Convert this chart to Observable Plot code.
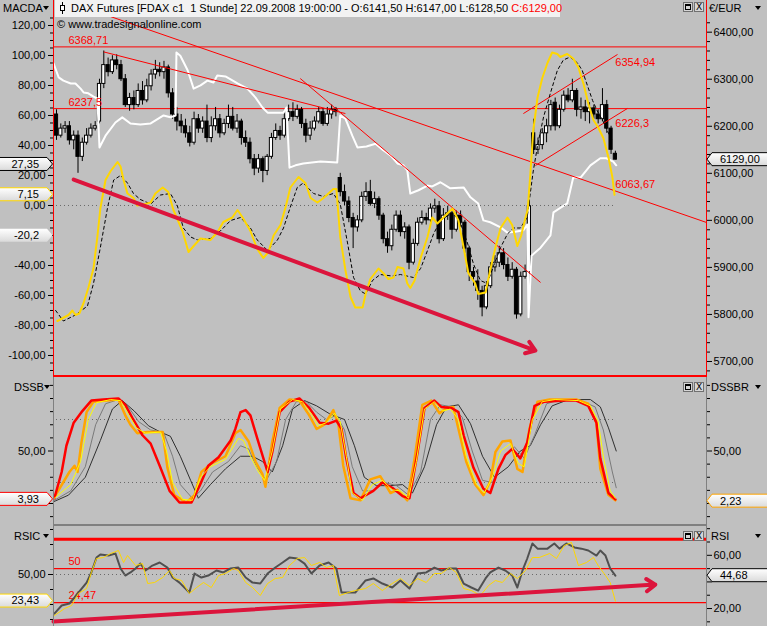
<!DOCTYPE html>
<html><head><meta charset="utf-8">
<script src="https://cdn.jsdelivr.net/npm/d3@7"></script>
<script src="https://cdn.jsdelivr.net/npm/@observablehq/plot@0.6"></script>
<style>
html,body{margin:0;padding:0;overflow:hidden;background:#c0c0c0;}
#chart{position:relative;width:767px;height:626px;background:#c0c0c0;font-family:"Liberation Sans",Arial,sans-serif;font-size:11px;overflow:hidden;color:#000;}
.lbl{position:absolute;white-space:pre;line-height:13px;}
.tri{position:absolute;width:0;height:0;border-left:3px solid transparent;border-right:3px solid transparent;border-top:4px solid #000;}
.ln{position:absolute;}
.btn{position:absolute;width:10px;height:10px;border:1px solid #707070;background:#d6d6d6;box-sizing:border-box;font-size:9px;line-height:8px;text-align:center;font-family:"DejaVu Sans",sans-serif;}
.btn .sq{position:absolute;left:1px;top:1px;width:6px;height:6px;border:1px solid #000;border-top-width:2px;box-sizing:border-box;}
</style></head><body><div id="chart"></div><script>
// ---------------- DATA ----------------
const barOpen  = [6225,6180,6195,6200,6170,6180,6135,6165,6180,6195,6210,6290,6330,6315,6340,6330,6300,6245,6260,6245,6275,6255,6285,6310,6320,6315,6325,6270,6225,6210,6200,6185,6165,6215,6195,6210,6175,6200,6215,6185,6205,6220,6195,6210,6175,6165,6130,6110,6130,6105,6135,6175,6190,6180,6215,6230,6220,6235,6205,6180,6195,6210,6230,6205,6225,6235,6090,6060,6040,6005,5985,6000,6050,6060,6035,6045,6010,5960,5945,5980,6010,5975,5985,5910,5950,5995,6005,6000,6025,6030,5960,6010,6015,5980,6010,5995,5940,5890,5870,5850,5815,5860,5900,5910,5930,5905,5880,5895,5800,5880,5890,6185,6150,6160,6185,6200,6250,6200,6235,6265,6255,6275,6235,6240,6230,6238,6225,6215,6245,6195,6141.5];
const barHigh  = [6235,6205,6210,6210,6190,6190,6175,6195,6205,6210,6300,6360,6345,6350,6352,6340,6310,6270,6275,6290,6295,6300,6320,6340,6335,6338,6330,6280,6240,6225,6215,6200,6230,6225,6220,6245,6220,6240,6225,6215,6245,6240,6225,6215,6190,6175,6140,6140,6135,6140,6185,6205,6200,6235,6245,6250,6245,6240,6215,6210,6220,6240,6238,6240,6245,6240,6100,6075,6050,6015,6010,6060,6080,6085,6060,6050,6015,5975,5990,6020,6020,5995,5990,5960,6005,6020,6015,6035,6045,6040,6025,6030,6025,6020,6020,6000,5945,5900,5895,5860,5870,5910,5925,5945,5940,5920,5910,5900,5890,5905,6040,6215,6175,6195,6215,6255,6260,6245,6275,6280,6300,6280,6260,6255,6250,6245,6235,6280,6255,6200,6147];
const barLow   = [6170,6175,6185,6160,6150,6100,6125,6160,6175,6190,6205,6280,6305,6310,6320,6295,6240,6232,6235,6240,6245,6250,6275,6300,6305,6300,6260,6215,6190,6185,6175,6156,6160,6185,6185,6165,6165,6190,6175,6180,6195,6190,6185,6160,6155,6120,6095,6100,6080,6095,6130,6170,6170,6175,6210,6210,6215,6195,6165,6170,6190,6205,6200,6200,6215,6220,6050,6030,5995,5940,5975,5995,6040,6030,6025,6000,5950,5930,5935,5975,5965,5960,5895,5905,5945,5990,5990,5995,6015,5950,5955,6000,5960,5975,5985,5930,5870,5860,5830,5795,5810,5855,5890,5900,5895,5870,5875,5790,5795,5875,5885,6140,6140,6150,6165,6190,6190,6195,6230,6250,6250,6220,6215,6210,6205,6215,6205,6210,6185,6140,6128.5];
const barClose = [6180,6195,6200,6170,6180,6135,6165,6180,6195,6200,6290,6330,6315,6340,6330,6300,6245,6260,6245,6275,6255,6285,6310,6320,6315,6325,6270,6225,6210,6200,6185,6165,6215,6195,6210,6175,6200,6215,6185,6205,6220,6195,6210,6175,6165,6130,6110,6130,6105,6135,6175,6190,6180,6215,6230,6220,6235,6205,6180,6195,6210,6230,6205,6225,6235,6230,6060,6040,6005,5985,6000,6050,6060,6035,6045,6010,5960,5945,5980,6010,5975,5985,5910,5950,5995,6005,6000,6025,6030,5960,6010,6015,5980,6010,5995,5940,5890,5880,5850,5815,5860,5900,5910,5930,5905,5880,5895,5800,5880,5890,6030,6150,6160,6185,6200,6245,6200,6235,6265,6255,6275,6235,6240,6230,6238,6225,6215,6245,6195,6150,6129];

// white indicator line on the price scale [bar index, value]
const whiteLine = [[-0.7,6334],[0.5,6304],[1.6,6297],[3.3,6291],[4.4,6291],[5.6,6280],[6.3,6272],[7.4,6270],[8.6,6263],[9.5,6259],[10.0,6155],[11.4,6180],[13.7,6208],[15.3,6219],[17.2,6206],[19.5,6204],[21.9,6206],[24.9,6223],[26.5,6219],[27.7,6223],[27.9,6357],[28.8,6350],[30.5,6319],[31.9,6280],[33.5,6287],[35.1,6297],[36.5,6293],[37.4,6308],[39.3,6306],[42.1,6291],[44.4,6280],[46.3,6261],[47.9,6240],[49.1,6229],[52.8,6229],[53.5,6240],[54.2,6112],[55.6,6117],[57.4,6121],[61.4,6125],[65.3,6123],[66.0,6223],[67.2,6216],[68.8,6180],[70.0,6155],[72.1,6157],[74.2,6163],[76.0,6149],[77.7,6138],[79.3,6121],[80.7,6117],[81.6,6106],[82.3,6057],[84.2,6064],[86.3,6074],[87.4,6072],[89.3,6081],[91.6,6068],[94.7,6070],[96.3,6049],[98.1,6036],[99.3,6000],[100.9,5996],[103.3,5985],[104.9,5974],[106.7,5976],[108.6,5979],[109.5,5991],[109.8,5794],[110.5,5925],[111.4,5932],[112.6,5942],[114.9,5968],[115.6,6017],[118.8,6036],[120.2,6091],[121.9,6091],[124.2,6117],[126.5,6132],[127.9,6132],[129.5,6125],[130.2,6117]];

// MACD (left scale)
const macdMain = [[0.2,-77],[2.8,-73],[3.7,-70],[4.4,-73],[5.3,-72],[6.3,-65],[7.4,-55],[8.6,-42],[9.5,-21],[10.2,-2],[11.4,17],[12.6,23],[14.2,29],[14.9,26],[15.6,17],[16.5,8],[17.9,5],[18.8,0],[20.7,1],[21.9,2],[23.0,8],[24.7,12],[26.0,9],[27.2,-3],[29.3,-17],[30.7,-31],[31.9,-27],[33.5,-22],[35.8,-23],[37.4,-18],[38.8,-11],[40.9,-8],[42.1,-3],[43.3,-8],[45.1,-17],[46.7,-29],[48.1,-35],[49.3,-31],[50.5,-20],[52.1,-13],[53.3,-1],[54.4,12],[56.3,19],[57.9,15],[59.1,5],[60.7,2],[62.1,5],[64.4,11],[65.1,11],[66.0,-21],[67.2,-43],[68.4,-61],[69.5,-68],[71.2,-68],[71.9,-59],[73.0,-49],[74.9,-42],[76.0,-45],[77.2,-49],[78.4,-48],[79.3,-41],[80.7,-42],[81.6,-52],[82.3,-55],[83.3,-50],[84.7,-35],[86.3,-21],[87.4,-8],[88.6,-12],[90.0,-8],[92.1,-2],[93.5,-10],[94.7,-28],[95.8,-45],[97.4,-52],[98.1,-59],[99.8,-58],[100.9,-43],[102.1,-28],[103.3,-15],[104.9,-8],[106.0,-13],[107.2,-27],[108.1,-20],[109.1,-8],[109.6,-3],[110.2,20],[110.9,50],[111.9,72],[113.0,85],[114.2,95],[115.3,102],[116.5,101],[117.2,99],[118.8,101],[120.2,98],[121.4,92],[122.6,81],[123.7,68],[124.9,57],[126.0,52],[127.2,45],[128.4,32],[129.3,19],[129.8,7.15]];
const macdSignal = [[-0.2,-70],[1.6,-77],[4.4,-73],[7.2,-67],[8.6,-52],[10.2,-28],[11.9,-1],[13.3,17],[14.9,20],[16.5,15],[17.9,8],[19.5,4],[21.9,1],[24.2,7],[26.5,8],[28.1,0],[29.5,-15],[31.2,-21],[32.8,-23],[35.8,-22],[38.1,-17],[40.5,-10],[42.8,-8],[45.1,-15],[46.7,-23],[49.1,-30],[51.4,-23],[52.8,-15],[54.4,-1],[56.0,12],[57.4,15],[59.8,8],[62.1,6],[64.4,8],[66.0,1],[67.7,-25],[69.1,-48],[70.7,-57],[71.9,-59],[73.5,-50],[75.3,-46],[78.1,-47],[80.0,-46],[83.0,-48],[84.7,-42],[86.3,-30],[87.7,-19],[89.3,-10],[90.9,-7],[92.3,-5],[94.0,-12],[95.6,-25],[97.0,-39],[98.6,-50],[100.2,-52],[101.6,-41],[103.3,-28],[104.9,-19],[106.3,-15],[107.9,-15],[109.5,-8],[110.2,8],[110.9,23],[112.1,43],[113.3,59],[114.9,75],[116.5,90],[117.9,97],[119.5,99],[121.2,95],[122.3,90],[123.5,80],[124.7,70],[125.8,63],[127.0,57],[128.1,50],[129.3,43]];

// price levels and trend lines
const priceLevels = [6368.71, 6237.5];
const priceLevelLabels = ["6368,71", "6237,5"];
const trendLines = [
  {x1:10.2, y1:6440.7, x2:151.2, y2:5995.5},
  {x1:11.0, y1:6358, x2:67.2, y2:6227},
  {x1:56.7, y1:6301.5, x2:112.6, y2:5868},
  {x1:108.6, y1:6227, x2:130.5, y2:6352.6},
  {x1:111.4, y1:6116.6, x2:132.8, y2:6237.8}
];
const channelLabels = [{v:6354.94, t:"6354,94"}, {v:6226.3, t:"6226,3"}, {v:6063.67, t:"6063,67"}];
const macdArrow = [{x1:4.0, y1:17.3, x2:111.4, y2:-96.7}];

// DSSB panel
const dssbRed = [[-0.5,5],[1.2,30],[2.3,55],[4.0,77],[5.8,87],[8.1,98],[10.9,99],[14.4,100],[16.0,94],[17.7,81],[20.0,65],[21.9,57],[24.0,36],[26.3,12],[28.6,1],[31.4,1],[33.3,17],[35.3,36],[37.7,44],[40.5,60],[41.6,71],[42.8,87],[44.0,89],[45.1,84],[46.7,62],[49.1,30],[50.2,49],[51.9,87],[54.2,97],[56.5,100],[58.8,91],[61.2,77],[63.3,76],[65.1,79],[66.3,71],[67.4,43],[69.1,10],[70.7,5],[73.7,12],[75.8,20],[78.1,15],[80.5,7],[82.1,5],[84.0,49],[85.6,91],[87.9,98],[89.5,92],[91.9,91],[93.5,87],[94.7,65],[97.0,34],[99.3,14],[100.9,10],[102.8,33],[104.4,46],[106.0,52],[107.9,43],[109.5,58],[111.2,93],[113.5,97],[118.1,98],[120.9,98],[123.7,93],[125.6,77],[126.5,43],[128.4,10],[130.0,4]];
const dssbOrange = [[-0.5,6],[3.0,30],[4.2,36],[4.9,30],[5.8,58],[7.0,87],[8.6,97],[14.4,99],[16.0,84],[17.2,75],[18.8,67],[21.2,68],[24.7,68],[25.8,34],[27.4,8],[30.2,1],[32.1,8],[33.7,30],[36.0,38],[39.3,45],[41.6,67],[42.8,70],[44.7,59],[46.3,40],[47.9,28],[48.6,16],[50.2,59],[51.9,91],[54.2,99],[56.5,98],[58.8,84],[60.5,71],[62.3,75],[64.4,89],[65.6,75],[66.7,36],[68.4,5],[70.7,3],[73.0,23],[75.3,26],[77.7,10],[79.3,13],[81.6,3],[83.3,43],[85.1,94],[87.2,98],[89.1,86],[90.7,91],[92.3,92],[93.5,71],[95.3,40],[97.4,18],[99.3,8],[100.9,21],[102.1,49],[103.7,59],[105.6,60],[107.2,33],[108.4,30],[110.0,71],[111.9,97],[114.7,99],[120.9,99],[123.7,95],[125.6,77],[126.5,33],[128.4,8],[130.0,3]];
const dssbYellow = [[-0.5,5],[3.3,18],[5.6,40],[7.4,80],[9.3,96],[12.6,99],[14.9,98],[16.7,85],[18.6,72],[20.7,67],[24.2,68],[25.6,50],[27.0,20],[29.3,4],[31.6,3],[33.5,25],[35.8,35],[39.3,42],[42.3,62],[43.5,60],[45.1,45],[47.0,30],[48.4,22],[50.2,50],[52.1,90],[54.9,99],[57.2,97],[59.5,84],[60.9,74],[62.8,77],[64.7,86],[66.0,78],[67.4,45],[68.8,10],[71.2,3],[73.5,18],[75.8,22],[78.1,13],[80.0,12],[81.9,5],[83.7,40],[85.6,90],[87.9,97],[89.8,88],[91.6,90],[93.5,80],[95.3,45],[97.7,18],[99.5,10],[101.4,25],[103.3,50],[105.6,57],[107.4,38],[108.8,35],[110.7,80],[113.0,97],[116.0,99],[121.4,98],[124.2,93],[126.0,78],[127.2,45],[128.8,12],[130.0,5]];
const dssbGray = [[-0.5,3],[3.3,12],[6.7,35],[9.1,75],[11.4,95],[14.4,99],[16.7,92],[19.1,78],[21.9,70],[24.9,68],[27.0,45],[28.8,18],[31.6,5],[33.5,12],[36.3,30],[40.0,40],[42.8,55],[44.7,52],[46.5,35],[48.8,22],[51.2,40],[53.3,80],[55.8,97],[58.1,97],[60.5,87],[62.8,80],[65.1,84],[67.0,70],[68.8,35],[71.2,12],[73.5,12],[76.3,20],[79.1,17],[81.9,8],[84.7,30],[87.0,80],[89.3,94],[92.1,92],[94.4,82],[96.7,50],[99.1,22],[101.4,20],[104.2,45],[106.5,54],[108.8,43],[111.2,65],[114.0,95],[117.2,99],[121.9,98],[125.3,92],[127.2,70],[129.3,30],[130.2,15]];
const dssbDark = [[-0.5,2],[2.8,8],[6.7,25],[10.2,60],[13.0,90],[15.3,98],[18.1,88],[21.4,74],[24.2,68],[26.5,64],[28.8,45],[31.2,22],[33.0,5],[35.8,18],[39.3,33],[42.8,45],[45.6,45],[47.9,40],[50.2,30],[52.6,55],[54.9,90],[57.7,98],[60.5,93],[63.7,85],[67.0,80],[69.3,55],[71.6,25],[74.4,17],[77.7,17],[80.5,18],[82.8,10],[85.6,35],[88.4,75],[90.7,92],[93.5,94],[96.3,76],[99.1,45],[101.9,25],[105.1,35],[107.9,50],[110.2,55],[112.6,75],[115.3,93],[119.1,99],[124.2,99],[126.5,92],[128.4,72],[130.2,50]];
const dssbLevels = [20, 80];

// RSI panel
const rsiLine = [[-0.5,16.2],[1.2,22.3],[3.0,23.8],[4.2,28.3],[5.1,32.0],[7.0,39.5],[8.1,47.1],[9.3,58.3],[10.2,60.6],[12.1,59.8],[13.7,61.4],[14.9,50.1],[16.0,44.8],[17.2,47.1],[18.4,50.1],[19.5,53.8],[20.7,48.6],[22.3,52.3],[24.0,54.6],[25.8,50.8],[27.0,43.3],[28.6,39.5],[30.9,32.0],[32.1,46.3],[33.7,43.3],[35.3,44.8],[37.2,48.6],[38.8,47.1],[40.5,50.1],[42.3,50.8],[44.0,43.3],[45.6,39.5],[47.4,38.8],[49.1,46.3],[50.9,50.8],[52.6,54.6],[54.2,58.3],[56.0,57.6],[57.7,53.8],[59.3,46.3],[61.2,52.3],[63.3,54.6],[65.1,50.1],[66.3,32.0],[67.9,32.0],[69.5,32.0],[71.9,41.1],[73.7,42.6],[75.8,38.8],[78.1,35.8],[80.0,41.1],[82.1,35.0],[84.0,46.3],[86.0,47.1],[87.9,50.8],[89.5,48.6],[91.4,50.1],[93.0,50.1],[94.7,38.8],[96.5,35.8],[98.1,33.5],[99.8,42.6],[100.9,47.1],[102.8,50.8],[104.4,48.6],[106.0,44.8],[107.2,35.8],[108.4,48.6],[109.5,57.6],[110.7,68.9],[111.9,65.0],[114.2,65.0],[115.8,68.9],[117.0,65.0],[118.6,68.9],[120.5,65.9],[122.1,65.0],[123.7,63.6],[125.6,59.8],[126.5,63.6],[127.7,59.8],[128.8,50.1],[130.0,44.68]];
const rsicLine = [[-0.5,9],[1.9,16],[3.5,19],[5.1,31],[7.0,36],[8.1,52],[9.3,66],[10.9,67],[12.6,71],[14.4,74],[15.6,62],[16.5,69],[18.4,59],[20.0,61],[21.2,41],[22.8,42],[24.7,47],[26.3,54],[27.4,46],[29.1,44],[30.9,31],[32.6,37],[34.2,42],[36.0,37],[37.7,49],[39.3,51],[41.2,56],[42.3,54],[44.0,42],[45.6,37],[47.4,29],[49.1,41],[50.9,46],[52.6,47],[54.2,59],[56.0,66],[57.7,67],[59.3,59],[61.2,62],[62.8,57],[64.4,59],[65.8,29],[67.9,32],[69.5,34],[71.9,36],[73.7,41],[75.8,34],[78.1,41],[80.0,46],[82.1,39],[84.0,46],[86.0,42],[87.9,51],[89.5,51],[91.4,57],[93.0,52],[94.7,36],[96.5,34],[98.6,29],[100.5,39],[102.1,44],[103.7,42],[105.6,51],[107.2,46],[109.1,54],[110.7,67],[112.3,67],[114.7,71],[116.3,66],[118.1,79],[119.8,82],[121.4,59],[123.3,62],[124.9,67],[126.0,59],[127.7,49],[128.8,42],[130.0,23.43]];
const rsiLevelTop = [72];
const rsiLevels = [50, 24.47];
const rsiLevelLabels = ["50", "24,47"];
const rsiArrow = [{x1:-0.7, y1:10.2, x2:139.3, y2:38}];

// last-value tags
const tagMacd = [{v:27.35, t:"27,35", b:"#000"}, {v:7.15, t:"7,15", b:"#ffd700"}, {v:-20.2, t:"-20,2", b:"none"}];
const tagPrice = {v:6129.00, t:"6129,00", b:"#000"};
const tagDssbL = {v:3.93, t:"3,93", b:"#ff0000"};
const tagDssbR = {v:2.23, t:"2,23", b:"#ffa500"};
const tagRsicL = {v:23.43, t:"23,43", b:"#ffd700"};
const tagRsiR = {v:44.68, t:"44,68", b:"#000"};

// ---------------- DRAW ----------------
const chart = document.getElementById("chart");
const bars = barClose.map((c, i) => ({i, o: barOpen[i], h: barHigh[i], l: barLow[i], c}));
const firstIdx = bars[0].i, lastIdx = bars[bars.length - 1].i;
const fmt = d => d.toFixed(2).replace(".", ",");
const blank = () => "";
const px = d => d[0], py = d => d[1];
const base = {
  width: 767, marginLeft: 53, marginRight: 61,
  x: {domain: [-0.7, 151.2], axis: null},
  style: {background: "transparent", fontFamily: "'Liberation Sans', Arial, sans-serif", fontSize: "11px", color: "#000", overflow: "visible"}
};
function place(svg, top) {
  svg.style.position = "absolute"; svg.style.left = "0px"; svg.style.top = top + "px";
  chart.appendChild(svg); return svg;
}

// main panel – price scale (right)
const priceMajor = d3.range(5700, 6401, 100);
const priceMinor = d3.range(5680, 6431, 20).filter(v => v % 100 !== 0);
const pricePlot = Plot.plot({
  ...base, height: 377, marginTop: 17, marginBottom: 1,
  y: {domain: [5668.1, 6431.2], axis: null, label: null},
  marks: [
    Plot.axisY({anchor: "right", ticks: priceMinor, tickSize: 3, tickFormat: blank}),
    Plot.axisY({anchor: "right", ticks: priceMajor, tickSize: 5, tickPadding: 2, tickFormat: fmt}),
    Plot.ruleY(priceLevels, {stroke: "#ff0000", strokeWidth: 1}),
    Plot.ruleX(bars, {x: "i", y1: "l", y2: "h", stroke: "#000", strokeWidth: 1}),
    Plot.rect(bars, {x1: d => d.i - 0.37, x2: d => d.i + 0.37, y1: "o", y2: "c", fill: d => d.c >= d.o ? "#fff" : "#000", stroke: "#000", strokeWidth: 1}),
    Plot.line(whiteLine, {x: px, y: py, stroke: "#fff", strokeWidth: 2}),
    Plot.link(trendLines, {x1: "x1", y1: "y1", x2: "x2", y2: "y2", stroke: "#ff0000", strokeWidth: 1, clip: true}),
    Plot.text(priceLevels, {y: d => d, text: (d, i) => priceLevelLabels[i], frameAnchor: "left", dx: 15, dy: -6, textAnchor: "start", fill: "#ff0000"}),
    Plot.text([channelLabels[0]], {x: () => lastIdx, y: "v", text: "t", dy: 9, textAnchor: "start", fill: "#ff0000"}),
    Plot.text([channelLabels[1]], {x: () => lastIdx, y: "v", text: "t", dy: 10, textAnchor: "start", fill: "#ff0000"}),
    Plot.text([channelLabels[2]], {x: () => lastIdx, y: "v", text: "t", dy: -6, textAnchor: "start", fill: "#ff0000"})
  ]
});
place(pricePlot, 0);

// main panel – MACD scale (left); the -20 label sits under a value tag
const macdMajor = d3.range(-100, 121, 20);
const macdMinor = d3.range(-110, 126, 5).filter(v => v % 20 !== 0);
const macdPlot = Plot.plot({
  ...base, height: 377, marginTop: 17, marginBottom: 1,
  y: {domain: [-114, 125.33], axis: null, label: null},
  marks: [
    Plot.axisY({anchor: "left", ticks: macdMinor, tickSize: 3, tickFormat: blank}),
    Plot.axisY({anchor: "left", ticks: macdMajor, tickSize: 5, tickPadding: 3, tickFormat: d => d === -20 ? "" : fmt(d)}),
    Plot.ruleY([0], {x1: () => firstIdx, x2: () => lastIdx, stroke: "#6a6a6a", strokeDasharray: "1,3"}),
    Plot.line(macdSignal, {x: px, y: py, stroke: "#000", strokeWidth: 1, strokeDasharray: "3,3"}),
    Plot.line(macdMain, {x: px, y: py, stroke: "#ffd700", strokeWidth: 2}),
    Plot.arrow(macdArrow, {x1: "x1", y1: "y1", x2: "x2", y2: "y2", stroke: "#dc143c", strokeWidth: 4, headLength: 4, headAngle: 70})
  ]
});
place(macdPlot, 0);

// DSSB panel
const dssbMajor = [0, 50];
const dssbMinor = [-12.5, 12.5, 25, 37.5, 62.5, 75, 87.5, 100, 112.5];
const dssbPlot = Plot.plot({
  ...base, height: 148, marginTop: 0, marginBottom: 0,
  y: {domain: [-20.95, 120], axis: null, label: null},
  marks: [
    Plot.axisY({anchor: "left", ticks: dssbMinor, tickSize: 3, tickFormat: blank}),
    Plot.axisY({anchor: "left", ticks: dssbMajor, tickSize: 5, tickPadding: 3, tickFormat: d => d === 0 ? "" : fmt(d)}),
    Plot.axisY({anchor: "right", ticks: dssbMinor, tickSize: 3, tickFormat: blank}),
    Plot.axisY({anchor: "right", ticks: dssbMajor, tickSize: 5, tickPadding: 2, tickFormat: d => d === 0 ? "" : fmt(d)}),
    Plot.ruleY(dssbLevels, {x1: () => firstIdx, x2: () => lastIdx, stroke: "#6a6a6a", strokeDasharray: "1,3"}),
    Plot.line(dssbDark, {x: px, y: py, stroke: "#303030", strokeWidth: 1}),
    Plot.line(dssbGray, {x: px, y: py, stroke: "#7a7a7a", strokeWidth: 1}),
    Plot.line(dssbOrange, {x: px, y: py, stroke: "#ffa500", strokeWidth: 2.5}),
    Plot.line(dssbRed, {x: px, y: py, stroke: "#ff0000", strokeWidth: 2.5}),
    Plot.line(dssbYellow, {x: px, y: py, stroke: "#ffff00", strokeWidth: 1})
  ]
});
place(dssbPlot, 377);

// RSI panel – right scale
const rsiPlot = Plot.plot({
  ...base, height: 101, marginTop: 0, marginBottom: 0,
  y: {domain: [6.5, 82.4], axis: null, label: null},
  marks: [
    Plot.axisY({anchor: "right", ticks: [10, 30, 50, 70, 80], tickSize: 3, tickFormat: blank}),
    Plot.axisY({anchor: "right", ticks: [20, 40, 60], tickSize: 5, tickPadding: 2, tickFormat: d => d === 40 ? "" : fmt(d)}),
    Plot.ruleY(rsiLevelTop, {stroke: "#ff0000", strokeWidth: 3}),
    Plot.ruleY(rsiLevels, {stroke: "#ff0000", strokeWidth: 1.4}),
    Plot.text(rsiLevels, {y: d => d, text: (d, i) => rsiLevelLabels[i], frameAnchor: "left", dx: 15, dy: -7, textAnchor: "start", fill: "#ff0000"}),
    Plot.line(rsiLine, {x: px, y: py, stroke: "#505050", strokeWidth: 2})
  ]
});
place(rsiPlot, 525);

// RSIC – left scale overlay
const rsicPlot = Plot.plot({
  ...base, height: 101, marginTop: 0, marginBottom: 0,
  y: {domain: [-2, 99], axis: null, label: null},
  marks: [
    Plot.axisY({anchor: "left", ticks: [5, 20, 35, 65, 80, 95], tickSize: 3, tickFormat: blank}),
    Plot.axisY({anchor: "left", ticks: [50], tickSize: 5, tickPadding: 3, tickFormat: fmt}),
    Plot.ruleY([50], {x1: () => firstIdx, x2: () => lastIdx, stroke: "#6a6a6a", strokeDasharray: "1,3"}),
    Plot.line(rsicLine, {x: px, y: py, stroke: "#ffd700", strokeWidth: 1})
  ]
});
place(rsicPlot, 525);

const rsiArrowPlot = Plot.plot({
  ...base, height: 101, marginTop: 0, marginBottom: 0,
  y: {domain: [6.5, 82.4], axis: null, label: null},
  marks: [
    Plot.arrow(rsiArrow, {x1: "x1", y1: "y1", x2: "x2", y2: "y2", stroke: "#dc143c", strokeWidth: 4, headLength: 4, headAngle: 70})
  ]
});
place(rsiArrowPlot, 525);

// panel borders
function line(l, t, w, h, c) {
  const d = document.createElement("div"); d.className = "ln";
  Object.assign(d.style, {left: l + "px", top: t + "px", width: w + "px", height: h + "px", background: c});
  chart.appendChild(d);
}
line(53, 0, 1, 377, "#ff0000"); line(706, 0, 1, 377, "#ff0000"); line(53, 375, 654, 2, "#ff0000");
line(53, 377, 1, 249, "#808080"); line(706, 377, 1, 249, "#808080"); line(53, 524, 654, 2, "#808080");

// headers
function label(text, l, t, extra) {
  const d = document.createElement("div"); d.className = "lbl"; d.textContent = text;
  d.style.left = l + "px"; d.style.top = t + "px"; if (extra) Object.assign(d.style, extra);
  chart.appendChild(d); return d;
}
function tri(l, t) { const d = document.createElement("div"); d.className = "tri"; d.style.left = l + "px"; d.style.top = t + "px"; chart.appendChild(d); }
label("MACDA", 3, 2); tri(43, 6);
label("€/EUR", 709, 2); tri(755, 6);
label("DSSB", 14, 381); tri(44, 385);
label("DSSBR", 711, 381); tri(755, 385);
label("RSIC", 14, 530); tri(43, 534);
label("RSI", 711, 530); tri(755, 534);

const tbox = document.createElement("div");
Object.assign(tbox.style, {position: "absolute", left: "55px", top: "0px", width: "505px", height: "17px", background: "#f2f2f2"});
chart.appendChild(tbox);
const ico = document.createElement("div");
ico.innerHTML = '<svg width="8" height="14"><line x1="3.5" y1="1" x2="3.5" y2="13" stroke="#000"/><rect x="1.5" y="4.5" width="4" height="5" fill="#fff" stroke="#000"/></svg>';
Object.assign(ico.style, {position: "absolute", left: "59px", top: "1px"});
chart.appendChild(ico);
const title = label("", 71, 2);
title.innerHTML = 'DAX Futures [FDAX c1  1 Stunde] 22.09.2008 19:00:00 - O:6141,50 H:6147,00 L:6128,50 <span style="color:#ff0000">C:6129,00</span>';
label("© www.tradesignalonline.com", 57, 18);

function buttons(t) {
  const a = document.createElement("div"); a.className = "btn"; a.style.left = "683px"; a.style.top = t + "px";
  a.innerHTML = '<div class="sq"></div>'; chart.appendChild(a);
  const b = document.createElement("div"); b.className = "btn"; b.style.left = "694px"; b.style.top = t + "px";
  b.textContent = "X"; chart.appendChild(b);
}
buttons(2); buttons(382); buttons(531);

// value tags overlay
const ov = d3.select(chart).append("svg").attr("width", 767).attr("height", 626)
  .style("position", "absolute").style("left", "0px").style("top", "0px")
  .style("font-family", "'Liberation Sans', Arial, sans-serif").style("font-size", "11px");
const grad = ov.append("defs").append("linearGradient").attr("id", "tg").attr("x1", 0).attr("y1", 0).attr("x2", 0).attr("y2", 1);
grad.append("stop").attr("offset", "0").attr("stop-color", "#ffffff");
grad.append("stop").attr("offset", "1").attr("stop-color", "#dadada");
function leftTag(y, tag) {
  ov.append("path").attr("d", `M-1,${y - 6.5}H47L52.5,${y}L47,${y + 6.5}H-1Z`).attr("fill", "url(#tg)")
    .attr("stroke", tag.b).attr("stroke-width", 1);
  ov.append("text").attr("x", 39).attr("y", y).attr("dy", "0.35em").attr("text-anchor", "end").text(tag.t);
}
function rightTag(y, tag) {
  ov.append("path").attr("d", `M712,${y - 6.5}H768V${y + 6.5}H712L707,${y}Z`).attr("fill", "url(#tg)")
    .attr("stroke", tag.b).attr("stroke-width", 1);
  ov.append("text").attr("x", 720).attr("y", y).attr("dy", "0.35em").text(tag.t);
}
const yMacd = macdPlot.scale("y"), yPrice = pricePlot.scale("y"), yDssb = dssbPlot.scale("y"), yRsi = rsiPlot.scale("y"), yRsic = rsicPlot.scale("y");
tagMacd.forEach(t => leftTag(yMacd.apply(t.v), t));
rightTag(yPrice.apply(tagPrice.v), tagPrice);
leftTag(377 + yDssb.apply(tagDssbL.v), tagDssbL);
rightTag(377 + yDssb.apply(tagDssbR.v), tagDssbR);
leftTag(525 + yRsic.apply(tagRsicL.v), tagRsicL);
rightTag(525 + yRsi.apply(tagRsiR.v), tagRsiR);
</script></body></html>
